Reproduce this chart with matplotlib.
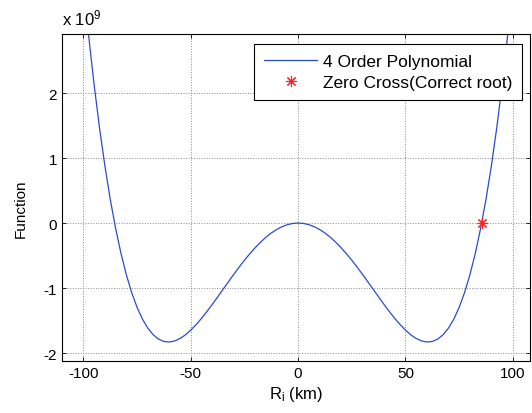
import numpy as np
import matplotlib
matplotlib.use('Agg')
import matplotlib.pyplot as plt

plt.rcParams['font.family'] = ['Liberation Sans', 'DejaVu Sans']
plt.rcParams['mathtext.fontset'] = 'custom'
plt.rcParams['mathtext.rm'] = 'Liberation Sans'
plt.rcParams['mathtext.default'] = 'regular'
plt.rcParams['axes.unicode_minus'] = False
plt.rcParams['font.size'] = 11

# radius samples (km) and polynomial values (x 1e9)
r_km = [-100, -97.5, -95, -92.5, -90, -87.5, -85, -82.5, -80, -77.5, -75, -72.5,
        -70, -67.5, -65, -62.5, -60, -57.5, -55, -52.5, -50, -47.5, -45, -42.5,
        -40, -37.5, -35, -32.5, -30, -27.5, -25, -22.5, -20, -17.5, -15, -12.5,
        -10, -7.5, -5, -2.5, 0, 2.5, 5, 7.5, 10, 12.5, 15, 17.5, 20, 22.5, 25,
        27.5, 30, 32.5, 35, 37.5, 40, 42.5, 45, 47.5, 50, 52.5, 55, 57.5, 60,
        62.5, 65, 67.5, 70, 72.5, 75, 77.5, 80, 82.5, 85, 87.5, 90, 92.5, 95,
        97.5, 100]
func_val = [3.685, 2.860, 2.120, 1.461, 0.877, 0.363, -0.084, -0.470, -0.798,
            -1.073, -1.299, -1.479, -1.618, -1.719, -1.786, -1.822, -1.830,
            -1.814, -1.776, -1.720, -1.647, -1.562, -1.466, -1.362, -1.252,
            -1.137, -1.021, -0.905, -0.790, -0.679, -0.572, -0.472, -0.379,
            -0.294, -0.218, -0.153, -0.099, -0.056, -0.025, -0.006, 0.0,
            -0.006, -0.025, -0.056, -0.099, -0.153, -0.218, -0.294, -0.379,
            -0.472, -0.572, -0.679, -0.790, -0.905, -1.021, -1.137, -1.252,
            -1.362, -1.466, -1.562, -1.647, -1.720, -1.776, -1.814, -1.830,
            -1.822, -1.786, -1.719, -1.618, -1.479, -1.299, -1.073, -0.798,
            -0.470, -0.084, 0.363, 0.877, 1.461, 2.120, 2.860, 3.685]
root_km = [85.6]
root_val = [0.0]

fig = plt.figure(figsize=(5.32, 4.14), dpi=100)
ax = fig.add_axes([0.1165, 0.1263, 0.8797, 0.789])

ax.plot(r_km, func_val, color='#2a4ccc', lw=0.9, label='4 Order Polynomial')
ax.plot(root_km, root_val, ls='none', marker=(8, 2, 0), ms=8, mew=0.8,
        color='#ff2020', label='Zero Cross(Correct root)')

ax.set_xlim(-110, 108)
ax.set_ylim(-2.118, 2.908)
ax.set_xticks([-100, -50, 0, 50, 100])
ax.set_yticks([-2, -1, 0, 1, 2])
ax.grid(True, ls=':', color='#888888', lw=0.7)
ax.tick_params(direction='in', top=True, right=True, length=3, width=0.6)
for s in ax.spines.values():
    s.set_linewidth(0.8)

ax.set_xlabel('R$_i$ (km)', labelpad=3, fontsize=12)
ax.set_ylabel('Function')
ax.yaxis.set_label_coords(-0.074, 0.467)
fig.text(62 / 532, 1 - 25 / 414, 'x 10$^9$', ha='left', va='baseline', fontsize=12)

leg = ax.legend(loc='upper right', bbox_to_anchor=(0.982, 0.969), borderaxespad=0,
                fancybox=False, framealpha=1, edgecolor='black', fontsize=12.5,
                handlelength=3.1, handletextpad=0.3, borderpad=0.55,
                labelspacing=0.35)
leg.get_frame().set_linewidth(0.8)

fig.savefig('out.png', dpi=100)
